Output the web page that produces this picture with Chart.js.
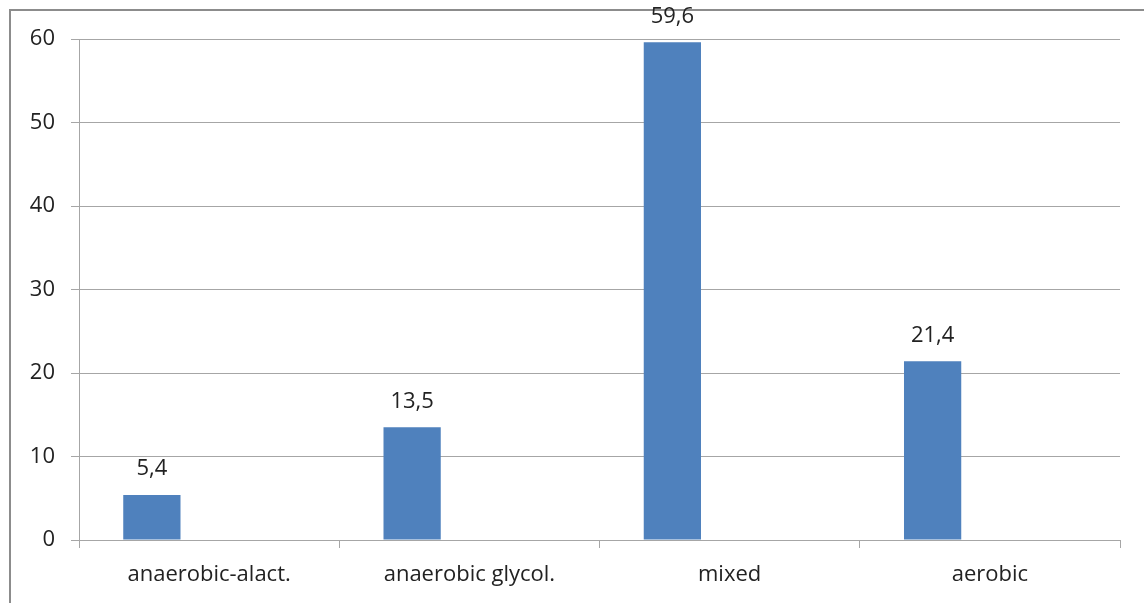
<!DOCTYPE html>
<html>
<head>
<meta charset="utf-8">
<script src="https://cdn.jsdelivr.net/npm/chart.js@4/dist/chart.umd.min.js"></script>
<style>
  html, body { margin: 0; padding: 0; background: #fff; }
  #wrap { width: 1144px; height: 603px; position: relative; }
</style>
</head>
<body>
<div id="wrap"><canvas id="chart"></canvas></div>
<script>
// Share of training load by energy-supply zone
const categories = ['anaerobic-alact.', 'anaerobic glycol.', 'mixed', 'aerobic'];
const zoneValues = [5.4, 13.5, 59.6, 21.4];
const spareSeries = [null, null, null, null];
const yTicks = [0, 10, 20, 30, 40, 50, 60];

const FONT = "'Open Sans', 'DejaVu Sans', sans-serif";
const TEXT = '#222222';
const GRID = '#a6a6a6';

// Outer frame of the chart box
const framePlugin = {
  id: 'frame',
  beforeDraw(chart) {
    const ctx = chart.ctx;
    ctx.save();
    ctx.strokeStyle = '#8c8c8c';
    ctx.lineWidth = 2;
    ctx.beginPath();
    ctx.moveTo(10, chart.height);
    ctx.lineTo(10, 10);
    ctx.lineTo(chart.width, 10);
    ctx.stroke();
    ctx.restore();
  }
};

// Value labels above each bar, comma as decimal separator
const valueLabelPlugin = {
  id: 'valueLabels',
  afterDatasetsDraw(chart) {
    const ctx = chart.ctx;
    const meta = chart.getDatasetMeta(0);
    ctx.save();
    ctx.font = '22px ' + FONT;
    ctx.fillStyle = TEXT;
    ctx.textAlign = 'center';
    ctx.textBaseline = 'middle';
    meta.data.forEach((bar, i) => {
      const v = zoneValues[i];
      ctx.fillText(v.toFixed(1).replace('.', ','), bar.x, bar.y - 26);
    });
    ctx.restore();
  }
};

new Chart(document.getElementById('chart'), {
  type: 'bar',
  data: {
    labels: categories,
    datasets: [
      { data: zoneValues, backgroundColor: '#4f81bd', borderWidth: 0 },
      { data: spareSeries, backgroundColor: '#c0504d', borderWidth: 0 }
    ]
  },
  options: {
    responsive: true,
    maintainAspectRatio: false,
    animation: false,
    devicePixelRatio: 1,
    categoryPercentage: 0.88,
    barPercentage: 0.5,
    layout: { padding: { left: 0, top: 39, right: 24, bottom: 0 } },
    plugins: { legend: { display: false }, tooltip: { enabled: false } },
    scales: {
      x: {
        grid: {
          offset: true,
          drawOnChartArea: false,
          drawTicks: true,
          tickLength: 8,
          color: GRID,
          lineWidth: 1
        },
        border: { display: true, color: GRID, width: 1 },
        ticks: { color: TEXT, font: { family: FONT, size: 22 }, padding: 14, maxRotation: 0 },
        afterFit(scale) { scale.height = 63; }
      },
      y: {
        min: 0,
        max: 60,
        afterBuildTicks(scale) { scale.ticks = yTicks.map(v => ({ value: v })); },
        grid: { color: GRID, lineWidth: 1, tickLength: 8 },
        border: { display: true, color: GRID, width: 1 },
        ticks: { color: TEXT, font: { family: FONT, size: 22 }, padding: 16 },
        afterFit(scale) { scale.width = 79; }
      }
    }
  },
  plugins: [framePlugin, valueLabelPlugin]
});
</script>
</body>
</html>
